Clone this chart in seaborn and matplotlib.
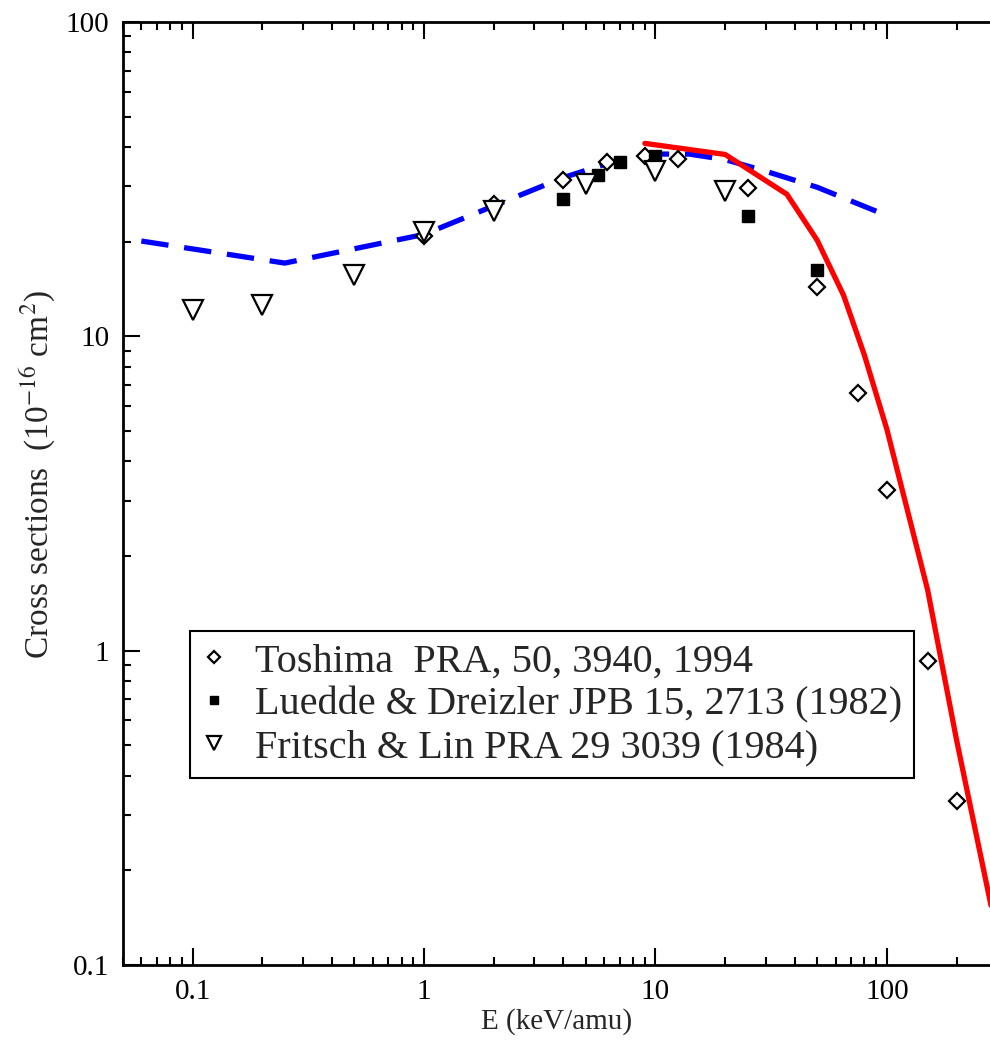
import matplotlib
matplotlib.use("Agg")
import matplotlib.pyplot as plt
import matplotlib.ticker as mticker
import seaborn as sns
import pandas as pd
import numpy as np

# ---- data ----
tosh_E = [1.0, 2.0, 4.0, 6.2, 9.0, 12.5, 25, 50, 75, 100, 150, 200]
tosh_s = [20.8, 26.3, 31.4, 35.8, 37.4, 36.6, 29.6, 14.4, 6.6, 3.24, 0.925, 0.332]

lued_E = [4.0, 5.66, 7.0, 10.0, 25, 50]
lued_s = [27.3, 32.5, 35.8, 37.4, 24.1, 16.2]

frit_E = [0.1, 0.2, 0.5, 1.0, 2.0, 5.0, 10.0, 20.0]
frit_s = [12.1, 12.6, 15.7, 21.4, 25.0, 30.5, 33.5, 28.9]

blue_E = [0.06, 0.25, 1.0, 2.0, 4.0, 7.0, 10.0, 14.0, 20.0, 30.0, 50.0, 90.0]
blue_s = [20.1, 17.1, 21.1, 26.0, 32.0, 36.5, 38.0, 38.0, 36.5, 33.5, 29.8, 25.0]

red_E = [9.0, 20.0, 37.0, 50.0, 65.0, 80.0, 100.0, 150.0, 200.0, 300.0]
red_s = [41.1, 37.9, 28.3, 20.2, 13.5, 8.7, 5.06, 1.56, 0.52, 0.124]

labels = ["Toshima  PRA, 50, 3940, 1994",
          "Luedde & Dreizler JPB 15, 2713 (1982)",
          "Fritsch & Lin PRA 29 3039 (1984)"]

xticks = [0.1, 1, 10, 100]
xticklabels = ["0.1", "1", "10", "100"]
yticks = [0.1, 1, 10, 100]
yticklabels = ["0.1", "1", "10", "100"]

# ---- style ----
sns.set_style("ticks")
plt.rcParams["font.family"] = ["Liberation Serif", "DejaVu Serif"]
plt.rcParams["mathtext.fontset"] = "stix"

fig = plt.figure(figsize=(9.9, 10.4), dpi=100)
ax = fig.add_axes([123 / 990, 1 - 965 / 1040, 1 - 123 / 990, (965 - 22) / 1040])

df_blue = pd.DataFrame({"E": blue_E, "s": blue_s})
df_red = pd.DataFrame({"E": red_E, "s": red_s})
df_t = pd.DataFrame({"E": tosh_E, "s": tosh_s})
df_l = pd.DataFrame({"E": lued_E, "s": lued_s})
df_f = pd.DataFrame({"E": frit_E, "s": frit_s})

sns.lineplot(data=df_blue, x="E", y="s", ax=ax, color="#0000ff", lw=3.8,
             linestyle=(0, (5.2, 3.0)), sort=False, legend=False)
sns.lineplot(data=df_red, x="E", y="s", ax=ax, color="#ff0000", lw=3.8,
             sort=False, legend=False)

ax.plot(df_t["E"], df_t["s"], ls="none", marker="D", ms=8.5, mfc="white",
        mec="black", mew=1.6, label=labels[0], zorder=5)
ax.plot(df_l["E"], df_l["s"], ls="none", marker="s", ms=9.0, mfc="black",
        mec="black", mew=1.0, label=labels[1], zorder=5)
ax.plot(df_f["E"], df_f["s"], ls="none", marker="v", ms=14, mfc="white",
        mec="black", mew=1.6, label=labels[2], zorder=5)

ax.set_xscale("log")
ax.set_yscale("log")
ax.set_xlim(0.05, 279)
ax.set_ylim(0.1, 100)

ax.xaxis.set_major_locator(mticker.FixedLocator(xticks))
ax.xaxis.set_major_formatter(mticker.FixedFormatter(xticklabels))
ax.yaxis.set_major_locator(mticker.FixedLocator(yticks))
ax.yaxis.set_major_formatter(mticker.FixedFormatter(yticklabels))
ax.xaxis.set_minor_locator(mticker.LogLocator(base=10, subs=np.arange(2, 10)))
ax.yaxis.set_minor_locator(mticker.LogLocator(base=10, subs=np.arange(2, 10)))
ax.xaxis.set_minor_formatter(mticker.NullFormatter())
ax.yaxis.set_minor_formatter(mticker.NullFormatter())

ax.tick_params(which="both", direction="in", top=True, right=False,
               width=1.5, labelsize=21, colors="black")
ax.tick_params(which="major", length=12, pad=10)
ax.tick_params(which="minor", length=6)

for side in ["left", "bottom", "top"]:
    ax.spines[side].set_linewidth(2)
    ax.spines[side].set_color("black")
ax.spines["right"].set_visible(False)

ax.set_xlabel("E (keV/amu)", fontsize=21, labelpad=2)
ax.set_ylabel(r"Cross sections  (10$^{-16}$ cm$^{2}$)", fontsize=24)
ax.yaxis.set_label_coords(-0.074, 0.52)

leg = ax.legend(loc="lower left", bbox_to_anchor=(0.077, 0.198), fontsize=29,
                markerscale=0.68, frameon=True, fancybox=False,
                edgecolor="black", framealpha=1, borderpad=0.3,
                handletextpad=0.72, labelspacing=0.14, handlelength=0.6,
                borderaxespad=0)
leg.get_frame().set_linewidth(1.5)

fig.savefig("out.png", dpi=100)
